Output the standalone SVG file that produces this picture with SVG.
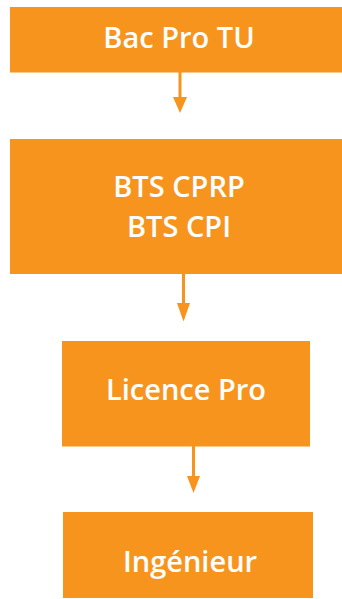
<svg xmlns="http://www.w3.org/2000/svg" width="342" height="599" viewBox="0 0 342 599">
<defs>
<style>
.box{fill:#F7941E}
.lbl{fill:#fff;font-family:"Open Sans","Noto Sans",sans-serif;font-weight:600;font-size:29px;text-anchor:middle}
.conn{stroke:#F7941E;stroke-width:3;fill:none}
.head{fill:#F7941E}
</style>
</defs>
<rect width="342" height="599" fill="#fff"/>
<g id="bacpro">
<rect class="box" x="10" y="7" width="335" height="65.5"/>
<text class="lbl" x="179" y="48">Bac Pro TU</text>
</g>
<g id="bts">
<rect class="box" x="10" y="139" width="335" height="135"/>
<text class="lbl" x="179" y="196.5">BTS CPRP</text>
<text class="lbl" x="179" y="236.5">BTS CPI</text>
</g>
<g id="licence">
<rect class="box" x="62" y="341" width="248" height="105.5"/>
<text class="lbl" x="186" y="400">Licence Pro</text>
</g>
<g id="ingenieur">
<rect class="box" x="63" y="512" width="250" height="86"/>
<text class="lbl" x="190" y="571.5">Ingénieur</text>
</g>
<g id="connectors">
<line class="conn" x1="180" y1="72" x2="180" y2="99"/>
<polygon class="head" points="173,97 187,97 180,113"/>
<line class="conn" x1="183.5" y1="274" x2="183.5" y2="305"/>
<polygon class="head" points="177,303 190,303 183.5,321.5"/>
<line class="conn" x1="193.5" y1="446" x2="193.5" y2="478"/>
<polygon class="head" points="187,476 200,476 193.5,493"/>
</g>
</svg>
